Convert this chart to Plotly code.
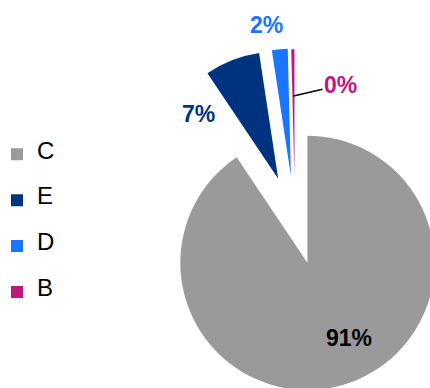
import plotly.graph_objects as go

# ---- data ----
categories = ["C", "E", "D", "B"]
values = [90.6, 7.0, 2.0, 0.4]

# ---- styles ----
slice_colors = ["#9A9A9A", "#00337F", "#1A75FF", "#C0187E"]
label_colors = ["#000000", "#00337F", "#1A75FF", "#C0187E"]
pulls = [0.336, 0.365, 0.364, 0.36]

W, H = 470, 400
FONT = "Liberation Sans, Arial, sans-serif"

total = sum(values)
pct_text = [f"{round(v / total * 100):d}%" for v in values]

legend_labels = [
    "\u00a0<br><span style='font-size:24px'>" + c + "</span><br>\u00a0" for c in categories
]

fig = go.Figure(
    go.Pie(
        labels=legend_labels,
        values=values,
        sort=False,
        direction="clockwise",
        rotation=0,
        pull=pulls,
        marker=dict(colors=slice_colors, line=dict(width=0)),
        textinfo="none",
        hoverinfo="label+percent",
        domain=dict(x=[121.5 / W, 468.5 / W], y=[1 - 395.5 / H, 1 - 48.5 / H]),
    )
)


def px(x, y):
    return x / W, 1 - y / H


# label centers (pixels) for each slice's percentage text
label_pos = [(348.7, 337.7), (198.3, 114.0), (266.7, 25.0), (340.5, 85.0)]
annotations = []
for i, (t, (lx, ly)) in enumerate(zip(pct_text, label_pos)):
    ax_, ay_ = px(lx, ly)
    a = dict(
        text="<b>" + t + "</b>",
        xref="paper", yref="paper",
        x=ax_, y=ay_, xanchor="center", yanchor="middle",
        showarrow=False,
        font=dict(family=FONT, size=23, color=label_colors[i]),
    )
    if i == 3:
        hx, hy = px(293.5, 96)
        a.update(
            x=hx, y=hy, showarrow=True, arrowhead=0, arrowwidth=1.5,
            arrowcolor="#000000", ax=lx - 293.5, ay=ly - 96, axref="pixel", ayref="pixel",
        )
    annotations.append(a)

fig.update_layout(
    width=W,
    height=H,
    margin=dict(l=0, r=0, t=0, b=0, autoexpand=False),
    paper_bgcolor="white",
    plot_bgcolor="white",
    showlegend=True,
    legend=dict(
        x=-3.0 / W, xanchor="left",
        y=1 - 223.3 / H, yanchor="middle",
        font=dict(family=FONT, size=11, color="#000000"),
        bgcolor="rgba(0,0,0,0)",
        borderwidth=0,
    ),
    annotations=annotations,
    font=dict(family=FONT),
)

fig.write_html(
    "out.html",
    config={"displayModeBar": False},
    post_script=(
        "document.body.style.margin='0';"
        "document.body.style.overflow='hidden';"
        "document.documentElement.style.overflow='hidden';"
    ),
)
